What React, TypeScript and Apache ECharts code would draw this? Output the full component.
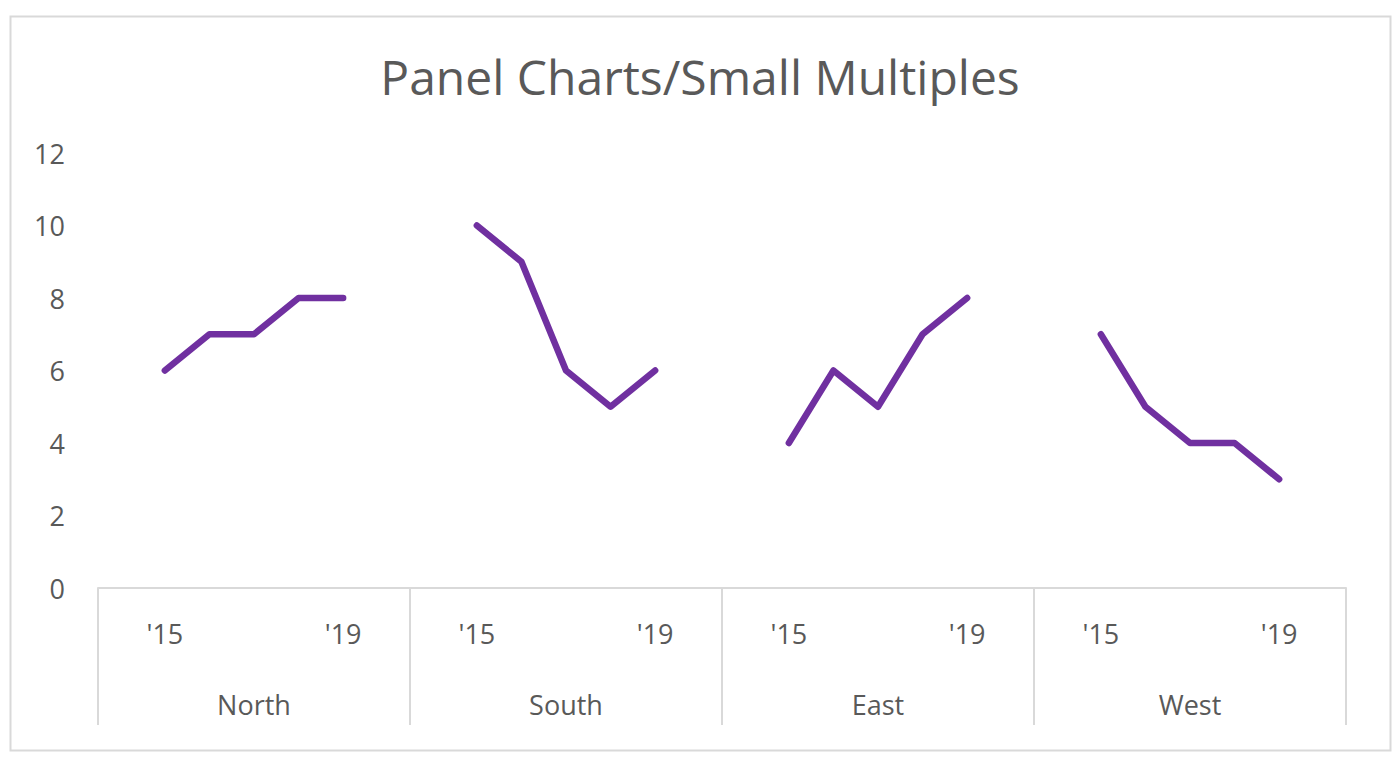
import React, { useEffect, useRef } from "react";
import * as echarts from "echarts";

const regions = ["North", "South", "East", "West"];
const yearLabels = ["'15", "", "", "", "'19"];
const northValues = [6, 7, 7, 8, 8];
const southValues = [10, 9, 6, 5, 6];
const eastValues = [4, 6, 5, 7, 8];
const westValues = [7, 5, 4, 4, 3];
const yTicks = [0, 2, 4, 6, 8, 10, 12];

const FONT = "'Segoe UI', 'Open Sans', 'Noto Sans', sans-serif";
const TEXT = "#595959";
const LINE = "#d9d9d9";

export default function App() {
  const ref = useRef<HTMLDivElement>(null);
  useEffect(() => {
    if (!ref.current) return;
    const chart = echarts.init(ref.current, undefined, { renderer: "svg" });
    const panels = [northValues, southValues, eastValues, westValues];
    const categories: string[] = [];
    const values: (number | null)[] = [];
    panels.forEach((p) => {
      categories.push("");
      values.push(null);
      p.forEach((v, i) => {
        categories.push(yearLabels[i]);
        values.push(v);
      });
      categories.push("");
      values.push(null);
    });
    chart.setOption({
      animation: false,
      backgroundColor: "#ffffff",
      title: {
        text: "Panel Charts/Small Multiples",
        left: "center",
        top: 47,
        textStyle: { fontFamily: FONT, fontSize: 48, fontWeight: "normal", color: TEXT },
      },
      graphic: [
        {
          type: "rect",
          left: 8,
          top: 14,
          shape: { width: 1380, height: 734 },
          style: { fill: "none", stroke: LINE, lineWidth: 2 },
          silent: true,
        },
      ],
      grid: { left: 98, right: 54, top: 153, bottom: 169 },
      yAxis: {
        type: "value",
        min: yTicks[0],
        max: yTicks[yTicks.length - 1],
        interval: 2,
        axisLine: { show: false },
        axisTick: { show: false },
        splitLine: { show: false },
        axisLabel: { fontFamily: FONT, fontSize: 27, color: TEXT, margin: 33 },
      },
      xAxis: [
        {
          type: "category",
          data: categories,
          boundaryGap: true,
          axisLine: { show: true, lineStyle: { color: LINE, width: 2 } },
          axisTick: { show: false },
          axisLabel: { interval: 0, fontFamily: FONT, fontSize: 27, color: TEXT, margin: 32 },
        },
        {
          type: "category",
          data: regions,
          position: "bottom",
          boundaryGap: true,
          axisLine: { show: false },
          axisTick: { show: true, length: 137, lineStyle: { color: LINE, width: 2 } },
          axisLabel: { interval: 0, fontFamily: FONT, fontSize: 27, color: TEXT, margin: 103 },
        },
      ],
      series: [
        {
          type: "line",
          xAxisIndex: 0,
          data: values,
          connectNulls: false,
          showSymbol: false,
          symbol: "none",
          lineStyle: { color: "#7030a0", width: 6.5, cap: "round", join: "round" },
        },
      ],
    });
    return () => chart.dispose();
  }, []);
  return (
    <div
      ref={ref}
      style={{ position: "absolute", left: 0, top: 0, width: 1400, height: 757 }}
    />
  );
}
